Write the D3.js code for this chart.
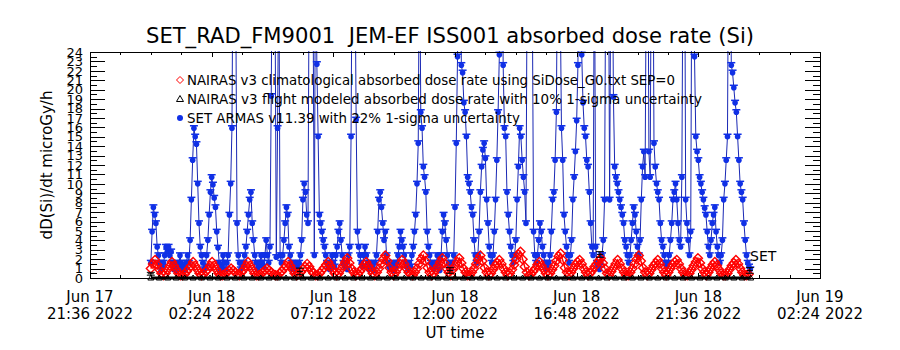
<!DOCTYPE html>
<html>
<head>
<meta charset="utf-8">
<script src="https://cdn.jsdelivr.net/npm/d3@7"></script>
<style>
  body { margin: 0; background: #fff; }
  text { font-family: "DejaVu Sans", sans-serif; fill: #000; }
</style>
</head>
<body>
<svg id="chart" width="900" height="350"></svg>
<script>
// ---- data ----
const title = "SET_RAD_FM9001  JEM-EF ISS001 absorbed dose rate (Si)"
const yLabel = "dD(Si)/dt microGy/h"
const xLabel = "UT time"
const legendLabels = [
  "NAIRAS v3 climatological absorbed dose rate using SiDose_G0.txt SEP=0",
  "NAIRAS v3 flight modeled absorbed dose rate with 10% 1-sigma uncertainty",
  "SET ARMAS v11.39 with 22% 1-sigma uncertainty"
]
const xDomain = ["2022-06-17T21:36Z", "2022-06-19T02:24Z"]
const xTickTimes = ["2022-06-17T21:36Z", "2022-06-18T02:24Z", "2022-06-18T07:12Z", "2022-06-18T12:00Z",
                    "2022-06-18T16:48Z", "2022-06-18T21:36Z", "2022-06-19T02:24Z"]
const yTicks = d3.range(0, 25)

// SET ARMAS, one sample every 3 minutes from 00:00 UT
const armasStart = "2022-06-18T00:00Z", armasStepMin = 3
const armasDose = [
  1.6, 4.9, 7.5, 6.7, 5.8, 3.3, 2.4, 1.6, 0.8, 1.2,
  1.6, 2.4, 3.3, 2.8, 3.3, 2.4, 2.8, 1.6, 0.9, 1.2,
  0.8, 1.6, 1.2, 2.4, 1.6, 0.8, 1.2, 0.9, 1.6, 2.4,
  1.6, 4.0, 8.3, 12.5, 15.9, 15.0, 14.2, 10.0, 5.8, 3.3,
  2.4, 1.6, 0.9, 1.2, 2.4, 4.0, 6.7, 9.1, 10.7, 9.9,
  8.5, 7.5, 4.9, 3.2, 1.6, 0.8, 1.2, 2.4, 1.6, 0.9,
  1.6, 2.4, 6.7, 10.0, 15.9, 38, 45, 30, 5.8, 2.4,
  1.6, 0.9, 1.2, 1.6, 2.4, 3.3, 4.9, 6.7, 8.3, 9.1,
  5.8, 4.0, 2.4, 1.6, 0.9, 1.2, 1.6, 2.4, 1.6, 1.2,
  2.4, 4.0, 2.4, 1.6, 3.3, 19.3, 40, 45, 30, 2.2,
  15.9, 35, 2.4, 1.6, 2.4, 4.0, 5.8, 7.5, 6.7, 3.3,
  2.4, 1.6, 0.9, 1.2, 1.6, 0.8, 1.2, 1.6, 2.4, 4.0,
  8.3, 10.0, 9.1, 6.7, 5.8, 35, 45, 40, 30, 2.4,
  40, 22.7, 15.0, 6.7, 5.8, 4.9, 4.0, 3.3, 2.4, 1.6,
  1.2, 0.9, 1.6, 2.4, 1.6, 1.2, 2.4, 3.3, 4.9, 5.8,
  4.0, 2.4, 1.6, 1.2, 1.6, 0.9, 2.4, 3.3, 15.0, 40,
  45, 35, 16.8, 4.9, 3.3, 2.4, 1.6, 1.2, 2.4, 3.3,
  2.4, 1.6, 0.9, 1.2, 1.6, 1.2, 0.8, 1.6, 2.4, 4.9,
  8.3, 9.1, 7.5, 5.8, 4.0, 4.9, 2.4, 1.6, 1.2, 0.9,
  1.2, 1.6, 0.8, 1.2, 1.6, 2.4, 3.3, 4.9, 4.0, 3.3,
  2.4, 1.6, 1.2, 0.9, 1.6, 1.2, 2.4, 3.3, 4.9, 6.7,
  10.0, 14.3, 38, 17.6, 15.9, 11.8, 10.7, 9.1, 4.9, 3.3,
  2.4, 1.6, 1.2, 0.9, 1.6, 1.2, 2.4, 1.6, 0.8, 2.4,
  4.9, 6.7, 5.8, 4.0, 2.4, 1.6, 1.2, 0.9, 1.6, 2.4,
  7.5, 14.3, 23.5, 40, 45, 22.6, 21.8, 18.6, 17.6, 15.0,
  10.7, 10.0, 9.1, 7.5, 6.7, 4.0, 2.4, 1.6, 2.4, 4.9,
  9.1, 11.8, 13.6, 14.3, 12.7, 8.3, 5.8, 3.3, 2.4, 1.6,
  2.4, 4.9, 8.3, 12.5, 17.6, 23.7, 40, 45, 22.6, 15.9,
  15.0, 9.1, 6.7, 4.9, 3.3, 2.4, 1.6, 2.4, 4.0, 8.3,
  11.8, 15.9, 15.0, 12.5, 10.7, 9.1, 5.8, 35, 45, 30,
  40, 30, 4.9, 2.4, 1.6, 2.4, 4.0, 5.8, 4.9, 3.3,
  2.4, 1.6, 1.2, 0.9, 1.6, 2.4, 4.9, 8.3, 9.1, 12.5,
  17.6, 38, 45, 30, 15.9, 12.5, 6.7, 4.9, 3.3, 2.4,
  1.6, 2.4, 4.0, 8.3, 10.7, 13.4, 16.7, 22.6, 40, 45,
  23.7, 18.6, 15.9, 15.0, 12.5, 11.8, 9.1, 5.8, 3.3, 2.4,
  38, 3.3, 1.6, 1.2, 0.9, 1.6, 2.4, 4.0, 8.3, 35,
  45, 40, 8.3, 35, 40, 19.2, 11.8, 10.7, 10.0, 9.1,
  8.3, 7.5, 6.7, 5.8, 4.0, 3.3, 2.4, 1.6, 2.4, 4.0,
  5.8, 7.5, 6.7, 4.9, 3.3, 2.4, 4.0, 8.3, 11.8, 13.4,
  10.7, 35, 45, 13.4, 10.7, 40, 45, 14.3, 11.8, 10.0,
  9.1, 8.3, 5.8, 4.0, 3.3, 2.4, 1.6, 1.2, 1.6, 2.4,
  4.0, 5.8, 8.3, 9.1, 10.0, 8.3, 5.8, 4.0, 3.3, 10.7,
  38, 45, 8.3, 5.8, 4.0, 2.4, 4.9, 40, 45, 23.5,
  15.0, 13.4, 12.5, 10.7, 10.0, 9.1, 8.3, 7.4, 6.7, 4.9,
  3.3, 2.4, 4.0, 5.8, 6.7, 7.5, 4.9, 3.3, 2.4, 1.6,
  2.4, 4.0, 8.3, 10.0, 12.5, 15.0, 40, 45, 22.6, 21.8,
  20.2, 18.6, 17.6, 15.0, 12.5, 10.0, 9.1, 8.3, 5.8, 4.0,
  2.4, 1.6, 1.2, 0.9
]

// NAIRAS climatological, one sample every 5 minutes from 00:00 UT
const climStart = "2022-06-18T00:00Z", climStepMin = 5
const nairasClim = [
  1.0, 1.5, 1.9, 1.4, 0.9, 0.5, 0.3,
  0.5, 0.9, 1.3, 1.7, 1.3, 0.9, 0.5, 0.3, 0.3,
  0.4, 0.7, 1.0, 1.3, 1.7, 1.3, 0.9, 0.5, 0.3,
  0.4, 0.7, 0.9, 1.3, 1.7, 1.3, 0.9, 0.5, 0.3,
  0.3, 0.4, 0.6, 0.8, 1.0, 0.8, 0.6, 0.4, 0.3,
  0.6, 0.9, 1.3, 1.7, 1.3, 0.9, 0.5, 0.3, 0.3,
  0.4, 0.6, 0.8, 1.0, 0.8, 0.6, 0.4, 0.3, 0.3,
  0.5, 0.7, 1.0, 1.3, 1.7, 1.3, 0.9, 0.5, 0.3,
  0.4, 0.6, 0.9, 1.2, 1.5, 1.2, 0.8, 0.5, 0.3, 0.3,
  0.5, 0.8, 1.1, 1.4, 1.7, 1.3, 0.9, 0.5, 0.3,
  0.5, 0.9, 1.3, 1.7, 2.1, 1.6, 1.0, 0.6, 0.3,
  0.4, 0.7, 1.0, 1.4, 1.7, 1.3, 0.9, 0.5, 0.3,
  0.6, 1.0, 1.5, 2.0, 2.4, 1.8, 1.1, 0.6, 0.3,
  0.6, 1.0, 1.5, 1.9, 1.5, 1.0, 0.6, 0.4, 0.3,
  0.6, 1.0, 1.5, 2.0, 2.4, 1.8, 1.1, 0.6, 0.3,
  0.5, 0.9, 1.3, 1.7, 2.1, 1.6, 1.0, 0.6, 0.3,
  0.9, 1.3, 1.7, 2.1, 1.6, 1.0, 0.6, 0.3, 0.3,
  0.6, 1.0, 1.5, 2.0, 2.4, 1.8, 1.1, 0.6, 0.3,
  0.5, 0.9, 1.3, 1.6, 1.9, 1.5, 1.0, 0.6, 0.3,
  0.5, 0.9, 1.4, 2.0, 2.5, 2.8, 2.0, 1.2, 0.6, 0.3,
  0.4, 0.7, 1.0, 1.4, 1.7, 1.3, 0.9, 0.5, 0.3,
  0.5, 0.9, 1.3, 1.8, 2.3, 2.6, 1.9, 1.1, 0.6, 0.3,
  0.6, 1.0, 1.4, 1.7, 1.9, 1.5, 1.0, 0.6, 0.3,
  0.5, 0.8, 1.2, 1.5, 1.8, 2.1, 1.6, 1.0, 0.5, 0.3,
  0.7, 1.1, 1.5, 1.9, 1.5, 1.0, 0.6, 0.3, 0.3,
  0.6, 1.0, 1.5, 2.0, 2.4, 1.8, 1.1, 0.6, 0.3,
  0.5, 0.9, 1.3, 1.6, 1.9, 1.5, 1.0, 0.6, 0.3,
  0.6, 1.0, 1.4, 1.7, 1.9, 1.5, 1.0, 0.6, 0.3, 0.3,
  0.5, 0.9, 1.3, 1.7, 2.1, 1.6, 1.0, 0.6, 0.3,
  0.6, 1.0, 1.4, 1.7, 1.3, 0.9, 0.5, 0.3, 0.3,
  0.5, 0.9, 1.3, 1.6, 1.9, 1.5, 1.0, 0.6, 0.3, 0.3, 0.4
]

// NAIRAS flight modeled, one sample every 20 minutes from 00:00 UT
const flightStart = "2022-06-18T00:00Z", flightStepMin = 20
const nairasFlight = [
  0, 0, 0, 0, 0, 0, 0, 0, 0, 0, 0, 0, 0, 0, 0, 0, 0, 0,
  0, 0, 0, 0, 0, 0, 0, 0, 0, 0, 0, 0, 0, 0, 0, 0, 0, 0,
  0, 0, 0, 0, 0, 0, 0, 0, 0, 0, 0, 0, 0, 0, 0, 0, 0, 0,
  0, 0, 0, 0, 0, 0, 0, 0, 0, 0, 0, 0, 0, 0, 0, 0, 0, 0
]
// flight model points with 1-sigma bars
const errTimes = ["2022-06-18T00:00Z", "2022-06-18T05:53Z", "2022-06-18T11:48Z", "2022-06-18T17:43Z", "2022-06-18T23:38Z"]
const errMid = [0.45, 0.7, 0.8, 2.5, 0.8]
const errLow = [0.3, 0.35, 0.5, 2.2, 0.5]
const errHigh = [0.6, 1.05, 1.1, 2.8, 1.1]

// ---- drawing ----
const blue = "#1030e6", blueLine = "#1a28b4", red = "#ff0000"
let svg = d3.select("#chart")
svg.append("rect").attr("width", 900).attr("height", 350).attr("fill", "#fff")

const pL = 90, pR = 820, pT = 52, pB = 278
let x = d3.scaleUtc().domain(xDomain.map((d) => new Date(d))).range([pL, pR])
let y = d3.scaleLinear().domain([0, 24]).range([pB, pT])

let series = (start, step, vals) => vals.map((v, i) => ({t: new Date(+new Date(start) + i * step * 60000), v: v}))
let armas = series(armasStart, armasStepMin, armasDose)
let clim = series(climStart, climStepMin, nairasClim)
let flight = series(flightStart, flightStepMin, nairasFlight)

svg.append("clipPath").attr("id", "plotclip")
  .append("rect").attr("x", pL).attr("y", pT - 1).attr("width", pR - pL).attr("height", pB - pT + 4)

let g = svg.append("g").attr("clip-path", "url(#plotclip)")
let line = d3.line().x((d) => x(d.t)).y((d) => y(d.v))

// SET ARMAS (blue)
g.append("path").datum(armas).attr("d", line)
  .attr("fill", "none").attr("stroke", blueLine).attr("stroke-width", 1)
g.selectAll(".armcap").data(armas).enter().append("line")
  .attr("x1", (d) => x(d.t) - 4).attr("x2", (d) => x(d.t) + 4)
  .attr("y1", (d) => y(d.v) - 2.5).attr("y2", (d) => y(d.v) - 2.5)
  .attr("stroke", blue).attr("stroke-width", 1.5)
g.selectAll(".arm").data(armas).enter().append("circle")
  .attr("cx", (d) => x(d.t)).attr("cy", (d) => y(d.v)).attr("r", 2.8)
  .attr("fill", blue)

// NAIRAS climatological (red diamonds)
g.append("path").datum(clim).attr("d", line)
  .attr("fill", "none").attr("stroke", red).attr("stroke-width", 1.5)
g.selectAll(".clim").data(clim).enter().append("path")
  .attr("d", "M0,-4.5L4.5,0L0,4.5L-4.5,0Z")
  .attr("transform", (d) => "translate(" + x(d.t) + "," + y(d.v) + ")")
  .attr("fill", "none").attr("stroke", red).attr("stroke-width", 1.4)

// NAIRAS flight modeled (black triangles)
g.append("path").datum(flight).attr("d", line)
  .attr("fill", "none").attr("stroke", "#000").attr("stroke-width", 3)
g.selectAll(".flt").data(flight).enter().append("path")
  .attr("d", "M0,-3L3,2L-3,2Z")
  .attr("transform", (d) => "translate(" + x(d.t) + "," + y(d.v) + ")")
  .attr("fill", "none").attr("stroke", "#000").attr("stroke-width", 1)

let errG = g.selectAll(".err").data(errTimes).enter().append("g")
errG.append("line")
  .attr("x1", (d) => x(new Date(d))).attr("x2", (d) => x(new Date(d)))
  .attr("y1", (d, i) => y(errLow[i])).attr("y2", (d, i) => y(errHigh[i]))
  .attr("stroke", "#000")
errG.append("line")
  .attr("x1", (d) => x(new Date(d)) - 4).attr("x2", (d) => x(new Date(d)) + 4)
  .attr("y1", (d, i) => y(errLow[i])).attr("y2", (d, i) => y(errLow[i]))
  .attr("stroke", "#000")
errG.append("line")
  .attr("x1", (d) => x(new Date(d)) - 4).attr("x2", (d) => x(new Date(d)) + 4)
  .attr("y1", (d, i) => y(errHigh[i])).attr("y2", (d, i) => y(errHigh[i]))
  .attr("stroke", "#000")
errG.append("line")
  .attr("x1", (d) => x(new Date(d)) - 3).attr("x2", (d) => x(new Date(d)) + 3)
  .attr("y1", (d, i) => y(errMid[i])).attr("y2", (d, i) => y(errMid[i]))
  .attr("stroke", "#000")

// ---- axes ----
let majorX = xTickTimes.map((d) => new Date(d))
let minorX = []
for (let i = 0; i < majorX.length - 1; i++) {
  let a = +majorX[i], b = +majorX[i + 1]
  for (let k = 1; k < 4; k++) minorX.push(new Date(a + (b - a) * k / 4))
}
let minorY = d3.range(0.5, 24, 1)

let axisStyle = (sel) => {
  sel.selectAll("path,line").attr("stroke", "#000").attr("stroke-width", 1).attr("shape-rendering", "crispEdges")
}

svg.append("g").attr("transform", "translate(0," + pB + ")")
  .call(d3.axisBottom(x).tickValues(majorX).tickSizeInner(-5).tickSizeOuter(0).tickFormat(""))
  .call(axisStyle)
svg.append("g").attr("transform", "translate(0," + pB + ")")
  .call(d3.axisBottom(x).tickValues(minorX).tickSizeInner(-3).tickSizeOuter(0).tickFormat(""))
  .call(axisStyle)
svg.append("g").attr("transform", "translate(0," + pT + ")")
  .call(d3.axisTop(x).tickValues(majorX).tickSizeInner(-5).tickSizeOuter(0).tickFormat(""))
  .call(axisStyle)
svg.append("g").attr("transform", "translate(0," + pT + ")")
  .call(d3.axisTop(x).tickValues(minorX).tickSizeInner(-3).tickSizeOuter(0).tickFormat(""))
  .call(axisStyle)

let yAxis = svg.append("g").attr("transform", "translate(" + pL + ",0)")
  .call(d3.axisLeft(y).tickValues(yTicks).tickSizeInner(-15).tickSizeOuter(0).tickPadding(7).tickFormat(d3.format("d")))
  .call(axisStyle)
yAxis.selectAll("text").attr("font-size", 13).attr("font-family", "DejaVu Sans").attr("fill", "#000")
svg.append("g").attr("transform", "translate(" + pL + ",0)")
  .call(d3.axisLeft(y).tickValues(minorY).tickSizeInner(-7).tickSizeOuter(0).tickFormat(""))
  .call(axisStyle)
svg.append("g").attr("transform", "translate(" + pR + ",0)")
  .call(d3.axisRight(y).tickValues(yTicks).tickSizeInner(-15).tickSizeOuter(0).tickFormat(""))
  .call(axisStyle)
svg.append("g").attr("transform", "translate(" + pR + ",0)")
  .call(d3.axisRight(y).tickValues(minorY).tickSizeInner(-7).tickSizeOuter(0).tickFormat(""))
  .call(axisStyle)

// x tick labels, two lines
let fmt1 = d3.utcFormat("%b %d"), fmt2 = d3.utcFormat("%H:%M %Y")
majorX.forEach((t) => {
  svg.append("text").attr("x", x(t)).attr("y", 302).attr("text-anchor", "middle")
    .attr("font-size", 15).text(fmt1(t))
  svg.append("text").attr("x", x(t)).attr("y", 319).attr("text-anchor", "middle")
    .attr("font-size", 15).text(fmt2(t))
})

svg.append("text").attr("x", 455).attr("y", 338).attr("text-anchor", "middle")
  .attr("font-size", 15).text(xLabel)

svg.append("text").attr("transform", "translate(52,165) rotate(-90)")
  .attr("text-anchor", "middle").attr("font-size", 15).text(yLabel)

svg.append("text").attr("x", 450).attr("y", 43).attr("text-anchor", "middle")
  .style("white-space", "pre")
  .attr("font-size", 22).attr("textLength", 608).attr("lengthAdjust", "spacingAndGlyphs").text(title)

svg.append("text").attr("x", 750).attr("y", 261).attr("font-size", 14).text("SET")

// ---- legend ----
let legY = [85, 104, 123]
let legW = [488, 515, 333]
legendLabels.forEach((s, i) => {
  svg.append("text").attr("x", 187).attr("y", legY[i]).attr("font-size", 14)
    .attr("textLength", legW[i]).attr("lengthAdjust", "spacingAndGlyphs").text(s)
})
svg.append("path").attr("d", "M0,-3.5L3.5,0L0,3.5L-3.5,0Z").attr("transform", "translate(180,80)")
  .attr("fill", "none").attr("stroke", red)
svg.append("path").attr("d", "M0,-3.5L3.5,2.5L-3.5,2.5Z").attr("transform", "translate(180,99)")
  .attr("fill", "none").attr("stroke", "#000")
svg.append("circle").attr("cx", 180).attr("cy", 118).attr("r", 3).attr("fill", blue)
</script>
</body>
</html>
